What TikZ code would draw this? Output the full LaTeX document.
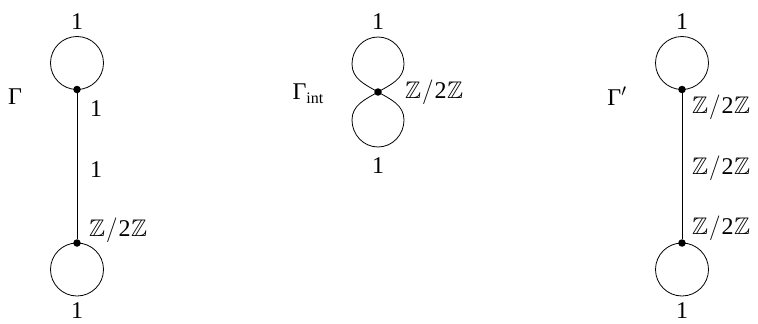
\documentclass[tikz,border=0pt]{standalone}
\usepackage{amssymb}
\usepackage{fontspec}
\setmainfont{Liberation Serif}
\newcommand{\ZtwoZ}{$\mathbb{Z}\kern1pt/\kern1pt$2$\kern0.5pt\mathbb{Z}$}
\begin{document}
\begin{tikzpicture}[x=1pt,y=-1pt,
  vtx/.style={circle,fill=black,inner sep=0pt,minimum size=7.5pt},
  lbl/.style={inner sep=1pt,font=\fontsize{24}{28}\selectfont},
  elbl/.style={lbl,anchor=west},
  wire/.style={line width=0.8pt}]
\useasboundingbox (0,0) rectangle (758,324);
% ---- Gamma ----
\node[vtx] (a1) at (77,89.5) {};
\node[vtx] (a2) at (77,243) {};
\draw[wire] (77,63) circle (26.5pt);
\draw[wire] (77,269.5) circle (26.5pt);
\draw[wire] (a1) -- (a2);
\node[lbl] (ga) at (15,97) {Γ};
\node[lbl] (at) at (77,22) {1};
\node[lbl] (ab) at (77,311) {1};
\node[elbl] (ae1) at (89,109) {1};
\node[elbl] (ae2) at (89,170) {1};
\node[elbl] (ae3) at (88,230) {\ZtwoZ};
% ---- Gamma_int ----
\node[vtx] (b) at (378,92) {};
\coordinate (bl) at (352,64);
\coordinate (bt) at (378,37);
\coordinate (br) at (404,64);
\coordinate (bl2) at (352,120);
\coordinate (bb) at (378,147);
\coordinate (br2) at (404,120);
\draw[wire] (b.center) to[out=150,in=-90] (bl) to[out=90,in=180] (bt)
  to[out=0,in=90] (br) to[out=-90,in=30] (b.center);
\draw[wire] (b.center) to[out=210,in=90] (bl2) to[out=-90,in=180] (bb)
  to[out=0,in=-90] (br2) to[out=90,in=-30] (b.center);
\node[lbl] (gb) at (308,94) {Γ\raisebox{-0.4ex}{\fontsize{16}{18}\selectfont int}};
\node[lbl] (bt1) at (378,22) {1};
\node[lbl] (bb1) at (378,166) {1};
\node[elbl] (be) at (404,92) {\ZtwoZ};
% ---- Gamma' ----
\node[vtx] (c1) at (682,89.5) {};
\node[vtx] (c2) at (682,243) {};
\draw[wire] (682,63) circle (26.5pt);
\draw[wire] (682,269.5) circle (26.5pt);
\draw[wire] (c1) -- (c2);
\node[lbl] (gc) at (617,96) {Γ$'$};
\node[lbl] (ct) at (682,22) {1};
\node[lbl] (cb) at (682,311) {1};
\node[elbl] (ce1) at (691,107) {\ZtwoZ};
\node[elbl] (ce2) at (691,168) {\ZtwoZ};
\node[elbl] (ce3) at (691,228) {\ZtwoZ};
\end{tikzpicture}
\end{document}
